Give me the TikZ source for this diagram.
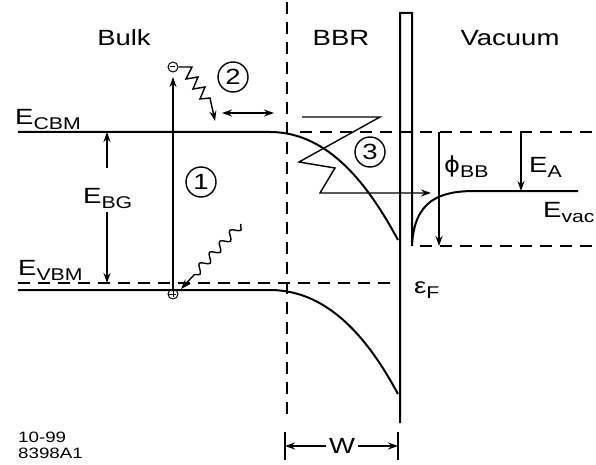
\documentclass[tikz,border=0pt]{standalone}
\usepackage{fontspec}
\setmainfont[FakeStretch=1.25]{Liberation Sans}
\newfontfamily\phifont[FakeStretch=1.1]{DejaVu Sans}
\usetikzlibrary{arrows.meta,decorations.pathmorphing}
\newcommand\sbs[1]{\raisebox{-5pt}{\fontsize{17}{19}\selectfont #1}}
\begin{document}
\begin{tikzpicture}[x=1pt,y=-1pt,
  band/.style={line width=2pt},
  thinl/.style={line width=1.4pt},
  dsh/.style={line width=1.7pt, dash pattern=on 12pt off 8pt},
  arr/.style={thinl,-{Stealth[length=10pt,width=7pt]}},
  darr/.style={thinl,{Stealth[length=10pt,width=7pt]}-{Stealth[length=10pt,width=7pt]}},
  lbl/.style={font=\fontsize{22}{24}\selectfont, inner sep=0pt},
  small/.style={font=\fontsize{15}{16}\selectfont, inner sep=0pt, anchor=base west},
  circnum/.style={draw, circle, line width=1.4pt, minimum size=30pt, inner sep=0pt, font=\fontsize{22}{24}\selectfont},
  pm/.style={draw, circle, line width=1pt, minimum size=10pt, inner sep=0pt}
]
\useasboundingbox (0,0) rectangle (596,465);

% region labels
\node[lbl] (bulk) at (124,38) {Bulk};
\node[lbl] (bbr) at (341,38) {BBR};
\node[lbl] (vacuum) at (510,38) {Vacuum};

% dashed divider
\coordinate (dtop) at (287,2);
\coordinate (dbot) at (287,420);
\draw[dsh] (dtop) -- (dbot);

% conduction band
\coordinate (c0) at (18,132);
\coordinate (c1) at (270,132);
\coordinate (c2) at (398,240);
\draw[band] (c0) -- (c1) .. controls (330,132) and (370,188) .. (c2);
% valence band
\coordinate (v0) at (18,290);
\coordinate (v1) at (270,290);
\coordinate (v2) at (398,394);
\draw[band] (v0) -- (v1) .. controls (330,290) and (370,342) .. (v2);
% valence dashed
\coordinate (vd0) at (18,283);
\coordinate (vd1) at (395,283);
\draw[dsh] (vd0) -- (vd1);

% barrier and vacuum level
\coordinate (b0) at (400,423);
\coordinate (b1) at (400,13);
\coordinate (b2) at (412,13);
\coordinate (b3) at (412,246);
\coordinate (ev0) at (475,191);
\coordinate (ev1) at (578,191);
\draw[band] (b0) -- (b1) -- (b2) -- (b3) .. controls (414,200) and (440,191) .. (ev0) -- (ev1);

% dashed levels at right
\coordinate (h0) at (300,132);
\coordinate (h1) at (592,132);
\draw[dsh] (h0) -- (h1);
\coordinate (l0) at (420,246);
\coordinate (l1) at (592,246);
\draw[dsh] (l0) -- (l1);

% labels
\node[lbl,anchor=base west] (ecbm) at (15,125) {E\sbs{CBM}};
\node[lbl,anchor=base west] (evbm) at (18,275) {E\sbs{VBM}};
\node[lbl,anchor=base west] (ebg) at (83,203) {E\sbs{BG}};
\node[lbl,anchor=base west] (phibb) at (444,172) {{\phifont ϕ}\sbs{BB}};
\node[lbl,anchor=base west] (ea) at (529,172) {E\sbs{A}};
\node[lbl,anchor=base west] (evac) at (543,217) {E\sbs{vac}};
\node[lbl,anchor=base west] (ef) at (414,293) {ε\sbs{F}};

% band gap arrows
\coordinate (bgt) at (107,132);
\coordinate (bgb) at (107,283);
\coordinate (bga) at (107,168);
\coordinate (bgc) at (107,212);
\draw[arr] (bga) -- (bgt);
\draw[arr] (bgc) -- (bgb);

% phi_BB and E_A arrows
\coordinate (p0) at (439,132);
\coordinate (p1) at (439,246);
\draw[arr] (p0) -- (p1);
\coordinate (a0) at (521,132);
\coordinate (a1) at (521,191);
\draw[arr] (a0) -- (a1);

% electron / hole
\node[pm] (minus) at (173,67) {};
\draw[line width=1pt] (minus.west) ++(2.5pt,0) -- ++(5pt,0);
\node[pm] (plus) at (173,294) {};
\draw[line width=1pt] (plus.west) ++(1.5pt,0) -- ++(7pt,0);
\draw[line width=1pt] (plus.north) ++(0,-1.5pt) -- ++(0,-7pt);

% excitation arrow (1)
\coordinate (exc) at (173,77);
\draw[arr] (plus.north) -- (exc);
\node[circnum] (n1) at (201,182) {1};

% thermalisation zigzag (2)
\coordinate (z0) at (192,67);
\coordinate (z7) at (215,121);
\draw[arr] (minus.east) -- (z0) -- (186,79) -- (198,77) -- (193,89) -- (205,87) -- (200,99) -- (210,98) -- (z7);
\node[circnum] (n2) at (233,77) {2};
\coordinate (d0) at (222,113);
\coordinate (d1) at (274,113);
\draw[darr] (d0) -- (d1);

% emission path (3)
\coordinate (e0) at (302,117);
\coordinate (e5) at (431,193);
\draw[arr] (e0) -- (380,117) -- (299,162) -- (335,168) -- (320,193) -- (e5);
\node[circnum] (n3) at (370,152) {3};

% photon
\coordinate (ph0) at (241,224);
\coordinate (ph1) at (181,289);
\draw[thinl, decorate, decoration={snake, amplitude=4pt, segment length=15pt, post length=12pt}, -{Stealth[length=10pt,width=7pt]}] (ph0) -- (ph1);

% W bracket
\coordinate (wl0) at (285,432);
\coordinate (wl1) at (285,460);
\coordinate (wr0) at (398,432);
\coordinate (wr1) at (398,460);
\draw[thinl] (wl0) -- (wl1);
\draw[thinl] (wr0) -- (wr1);
\node[lbl] (w) at (342,446) {W};
\coordinate (wl) at (285,446);
\coordinate (wr) at (398,446);
\draw[arr] (w.west) ++(-3pt,0) -- (wl);
\draw[arr] (w.east) ++(3pt,0) -- (wr);

% figure id
\node[small] (id1) at (18,442) {10-99};
\node[small] (id2) at (18,458) {8398A1};
\end{tikzpicture}
\end{document}
